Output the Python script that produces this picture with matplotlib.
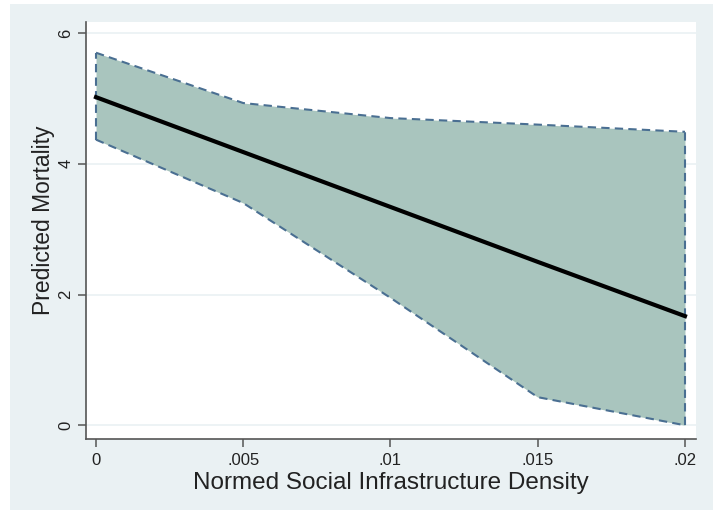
"""
plot.py - predicted mortality vs normed social infrastructure density (Stata-style margins plot).
"""

import matplotlib.pyplot as plt
from matplotlib.patches import Rectangle

plt.rcParams["font.family"] = ["Liberation Sans", "DejaVu Sans"]

# Values
density = [0.0, 0.005, 0.01, 0.015, 0.02]
predicted = [5.02, 4.18, 3.34, 2.50, 1.67]
upper_ci = [5.70, 4.93, 4.70, 4.60, 4.49]
lower_ci = [4.37, 3.40, 1.95, 0.43, 0.0]

x_ticks = [0.0, 0.005, 0.01, 0.015, 0.02]
x_ticklabels = ["0", ".005", ".01", ".015", ".02"]
y_ticks = [0, 2, 4, 6]

W, H = 713, 513
fig = plt.figure(figsize=(W / 100, H / 100), dpi=100)
fig.patch.set_facecolor("white")

# Stata's light graph region (behind the axes)
fig.patches.append(Rectangle((10 / W, 3 / H), 1 - 10 / W, 1 - 7 / H,
                             transform=fig.transFigure, facecolor="#eaf1f3",
                             edgecolor="none", zorder=-1))

ax = fig.add_axes([86 / W, (H - 439) / H, (696 - 86) / W, (439 - 22) / H])
ax.set_facecolor("white")

ci_style = dict(color="#4a6f92", linestyle=(0, (4, 2.5)), linewidth=1.5, zorder=3)
ax.fill_between(density, lower_ci, upper_ci, color="#a9c5be", linewidth=0, zorder=2)
ax.plot(density, upper_ci, **ci_style)
ax.plot(density, lower_ci, **ci_style)
# vertical edges of the CI band
for i in (0, -1):
    ax.plot([density[i], density[i]], [lower_ci[i], upper_ci[i]], **ci_style)
ax.plot(density, predicted, color="black", linewidth=3, zorder=4)

ax.set_xlim(-0.00034, 0.020374)
ax.set_ylim(-0.21, 6.17)
ax.set_xticks(x_ticks)
ax.set_xticklabels(x_ticklabels)
ax.set_yticks(y_ticks)
ax.set_yticklabels([str(v) for v in y_ticks], rotation=90, va="center")

ax.grid(axis="y", color="#eaf1f3", linewidth=1.2, zorder=1)
ax.set_axisbelow(True)
for side in ("top", "right"):
    ax.spines[side].set_visible(False)
for side in ("left", "bottom"):
    ax.spines[side].set_color("#555555")
    ax.spines[side].set_linewidth(1.2)

ax.tick_params(length=6, width=1.1, color="#555555", labelsize=12, labelcolor="#222222")
ax.tick_params(axis="x", pad=4)
ax.tick_params(axis="y", pad=3)
ax.set_xlabel("Normed Social Infrastructure Density", fontsize=17.5, color="#222222")
ax.set_ylabel("Predicted Mortality", fontsize=16.5, color="#222222")
ax.xaxis.set_label_coords(0.5, -0.105, transform=ax.transAxes)
ax.yaxis.set_label_coords(-0.069, 0.525, transform=ax.transAxes)
ax.xaxis.label.set_va("center")
ax.yaxis.label.set_va("center")

fig.savefig("out.png", dpi=100)
